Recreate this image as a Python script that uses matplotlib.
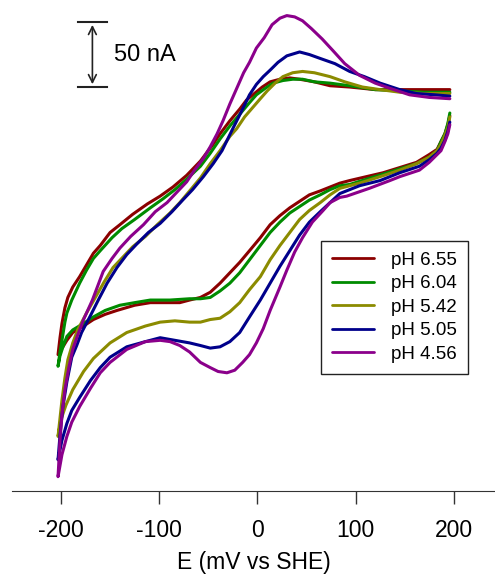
import matplotlib
matplotlib.use("Agg")
import matplotlib.pyplot as plt

plt.rcParams.update({
    "font.family": ["Liberation Sans", "DejaVu Sans"],
    "font.size": 16.5,
    "axes.unicode_minus": False,
})

# ---------------------------------------------------------------------------
# Cyclic voltammograms: E in mV vs SHE, current in nA
# (arbitrary offset). Each scan: reverse branch from +196 mV down to -203 mV,
# then forward branch back up to +196 mV.
# ---------------------------------------------------------------------------
labels = ["pH 6.55", "pH 6.04", "pH 5.42", "pH 5.05", "pH 4.56"]
colors = ["#8b0000", "#008b00", "#8b8b00", "#00008b", "#8b008b"]

# pH 6.55
E_655 = [196, 194, 191, 187, 183, 175, 162, 145, 128, 111, 94, 84, 74, 64, 53, 43, 33, 23, 13, 3,
         -8, -18, -28, -38, -48, -58, -69, -79, -89, -99, -109, -125, -143, -155, -167, -177, -188, -194, -198, -203,
         -201, -199, -196, -193, -188, -181, -174, -167, -160, -150, -140, -127, -112, -99, -86, -72, -58, -51,
         -45, -38, -28, -18, -11, -3, 5, 13, 23, 33, 43, 58, 74, 94, 120, 145, 170, 196]
I_655 = [142, 135, 128, 122, 116, 112, 106, 102, 98, 95, 92, 90, 87, 84, 81, 76, 71, 65, 58, 48,
         38, 29, 21, 13, 6, 2, 0, -2, -2, -2, -2, -4, -8, -11, -15, -20, -25, -31, -36, -42,
         -29, -18, -6, 2, 10, 18, 27, 36, 42, 52, 58, 66, 74, 80, 87, 96, 107, 114,
         120, 128, 138, 147, 154, 159, 164, 168, 170, 171, 170, 168, 165, 164, 162, 162, 162, 162]

# pH 6.04
E_604 = [196, 194, 191, 187, 183, 175, 162, 145, 128, 111, 94, 84, 74, 64, 53, 43, 33, 23, 13, 3,
         -8, -18, -28, -38, -48, -58, -69, -89, -109, -125, -140, -155, -167, -177, -188, -194, -198, -201, -203,
         -201, -199, -196, -194, -189, -181, -174, -167, -160, -148, -138, -125, -109, -96, -84, -72, -58, -48,
         -38, -28, -18, -8, -1, 8, 16, 26, 36, 46, 58, 74, 94, 120, 145, 170, 196]
I_604 = [144, 136, 128, 122, 115, 110, 105, 101, 97, 93, 89, 88, 85, 81, 77, 72, 67, 60, 52, 42,
         31, 21, 13, 7, 2, 1, 1, 0, 0, -2, -4, -8, -13, -18, -23, -28, -36, -43, -51,
         -40, -31, -17, -10, 0, 13, 23, 32, 38, 48, 55, 62, 71, 78, 85, 93, 103, 113,
         124, 134, 143, 152, 158, 163, 167, 169, 170, 170, 168, 167, 165, 162, 161, 160, 160]

# pH 5.42
E_542 = [196, 194, 191, 187, 183, 175, 162, 145, 125, 104, 84, 74, 64, 53, 43, 33, 23, 13, 3,
         -8, -18, -28, -38, -48, -58, -69, -84, -99, -114, -133, -150, -167, -177, -188, -195, -200, -203,
         -201, -199, -196, -193, -188, -183, -174, -165, -156, -147, -137, -127, -114, -102, -89, -79, -69, -58,
         -48, -38, -28, -21, -13, -5, 3, 10, 18, 26, 36, 46, 58, 74, 89, 107, 125, 145, 170, 196]
I_542 = [141, 133, 127, 120, 115, 110, 105, 100, 95, 90, 86, 81, 75, 69, 62, 52, 42, 31, 18,
         8, -2, -9, -14, -15, -17, -17, -16, -17, -20, -25, -33, -45, -55, -69, -81, -92, -105,
         -91, -77, -60, -46, -33, -23, -10, 2, 14, 25, 33, 41, 49, 58, 67, 75, 84, 94,
         105, 115, 126, 132, 141, 148, 155, 161, 167, 172, 175, 176, 175, 172, 168, 164, 162, 160, 159, 159]

# pH 5.05
E_505 = [196, 194, 191, 187, 183, 175, 165, 145, 125, 104, 84, 74, 64, 53, 43, 33, 23, 13, 3,
         -8, -18, -28, -38, -48, -58, -69, -84, -99, -114, -133, -150, -160, -170, -181, -189, -194, -199, -203,
         -201, -198, -194, -189, -184, -179, -170, -162, -153, -143, -133, -123, -111, -99, -87, -76, -66, -55,
         -45, -36, -25, -17, -8, -1, 6, 13, 21, 30, 43, 53, 64, 79, 94, 109, 125, 145, 162, 181, 196]
I_505 = [137, 130, 123, 117, 113, 108, 103, 98, 92, 88, 82, 75, 68, 60, 50, 38, 26, 13, 0,
         -13, -25, -32, -36, -37, -35, -33, -31, -29, -32, -36, -44, -52, -62, -75, -85, -95, -108, -123,
         -104, -82, -63, -44, -35, -25, -12, 0, 13, 25, 35, 43, 52, 59, 68, 77, 85, 95,
         105, 115, 132, 144, 158, 166, 172, 177, 183, 188, 191, 189, 186, 182, 176, 172, 167, 162, 159, 158, 157]

# pH 4.56
E_456 = [196, 194, 191, 187, 183, 175, 165, 145, 135, 114, 91, 84, 74, 67, 56, 46, 38, 30, 23, 13, 6,
         -1, -8, -15, -23, -31, -40, -48, -58, -69, -79, -89, -99, -114, -133, -150, -160, -170, -181, -189,
         -194, -199, -203,
         -202, -201, -199, -196, -192, -188, -183, -177, -168, -157, -148, -140, -129, -116, -104, -92, -82, -72,
         -64, -55, -48, -41, -35, -28, -21, -14, -8, -1, 7, 15, 23, 30, 38, 46, 55, 66, 77, 89, 104, 120,
         135, 155, 175, 196]
I_456 = [135, 128, 122, 115, 112, 106, 100, 95, 92, 86, 80, 79, 75, 69, 60, 48, 37, 23, 10, -8, -22,
         -33, -42, -48, -54, -56, -55, -52, -48, -40, -35, -32, -31, -32, -38, -48, -56, -68, -82, -94,
         -105, -119, -136,
         -122, -108, -88, -69, -52, -38, -27, -15, 0, 22, 32, 40, 49, 58, 68, 75, 83, 91,
         100, 109, 118, 128, 138, 151, 163, 175, 183, 194, 202, 212, 217, 219, 218, 215, 209, 201, 192, 182, 173, 167,
         163, 158, 156, 155]

E_all = [E_655, E_604, E_542, E_505, E_456]
I_all = [I_655, I_604, I_542, I_505, I_456]

# scale bar (nA)
bar_E = -168
bar_lo, bar_hi = 164, 214

fig = plt.figure(figsize=(4.95, 5.79), dpi=100)
ax = fig.add_axes([0.024, 0.152, 0.976, 0.848])

for E, I, c, lab in zip(E_all, I_all, colors, labels):
    ax.plot(E, I, color=c, lw=2.2, label=lab, solid_joinstyle="round", solid_capstyle="round")

# 50 nA scale bar
ax.annotate("", xy=(bar_E, bar_lo), xytext=(bar_E, bar_hi),
            arrowprops=dict(arrowstyle="<->", lw=1.2, color="#222222", mutation_scale=14))
for yv in (bar_lo, bar_hi):
    ax.plot([bar_E - 15, bar_E + 15], [yv, yv], color="#222222", lw=1.5)
ax.text(bar_E + 22, (bar_lo + bar_hi) / 2, "50 nA", ha="left", va="center", fontsize=17)

ax.set_xlim(-250, 242)
ax.set_ylim(-147, 231)
ax.set_xticks([-200, -100, 0, 100, 200])
ax.set_yticks([])
for s in ("top", "right", "left"):
    ax.spines[s].set_visible(False)
ax.spines["bottom"].set_color("#333333")
ax.tick_params(axis="x", direction="out", length=9, width=1, color="#333333", pad=11, labelsize=16.5)
ax.set_xlabel("E (mV vs SHE)", fontsize=16.5, labelpad=7)

leg = ax.legend(loc="lower right", bbox_to_anchor=(0.944, 0.238), borderaxespad=0,
                fontsize=13.5, handlelength=2.25, handletextpad=0.9, labelspacing=0.34,
                borderpad=0.6, fancybox=False, framealpha=1, edgecolor="#222222")
leg.get_frame().set_linewidth(1.0)
for h in leg.get_lines():
    h.set_linewidth(2.0)

fig.savefig("out.png", dpi=100)
